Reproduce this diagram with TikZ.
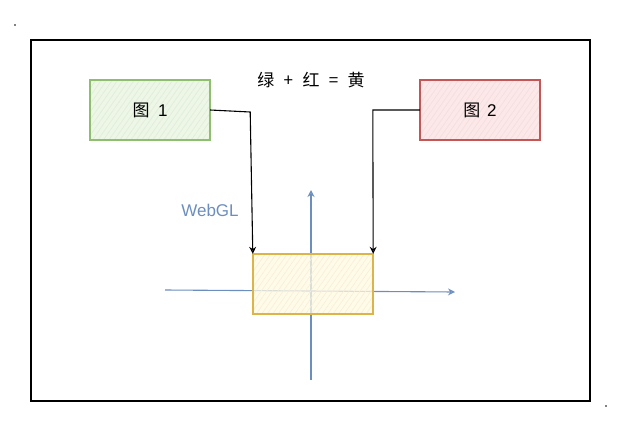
\documentclass[tikz,border=0pt]{standalone}
\usepackage{fontspec}
\setmainfont{Liberation Sans}
\newfontfamily\cjk{Noto Sans CJK SC}
\usetikzlibrary{patterns.meta,arrows.meta}
\definecolor{gline}{HTML}{8DBF6E}
\definecolor{gfill}{HTML}{EDF6E7}
\definecolor{rline}{HTML}{C65656}
\definecolor{rfill}{HTML}{FCE8E8}
\definecolor{yline}{HTML}{DDB447}
\definecolor{yfill}{HTML}{FFF9E2}
\definecolor{bline}{HTML}{6C8EBF}
\begin{document}
\begin{tikzpicture}[x=1pt,y=-1pt,
  boxstyle/.style={minimum width=120pt,minimum height=60pt,inner sep=0pt},
  conn/.style={line width=1.1pt,-{Stealth[open,length=7pt,width=7pt]}},
  axis/.style={bline,line width=1.1pt,-{Stealth[open,length=7pt,width=7pt]}},
  hatch/.style={postaction={pattern={Lines[angle=55,distance=4.5pt,line width=0.6pt]},pattern color=#1}},
  edge/.style={postaction={draw=#1,line width=1.2pt}}]
\useasboundingbox (0,0) rectangle (621,421);
\fill[black] (15,25) circle (0.9pt);
\fill[black] (606,406) circle (0.9pt);
\draw[line width=1.3pt] (31,40) rectangle (590,401);
\draw[axis] (311,380) coordinate (vb) -- (311,190) coordinate (vt);
\draw[axis] (165,290) coordinate (hl) -- (455,292) coordinate (hr);
\node[boxstyle,fill=gfill,hatch=gline!28,edge=gline] (b1) at (150,110) {\fontsize{17}{20}\selectfont\cjk 图\hspace{0.5em}\rmfamily 1};
\node[boxstyle,fill=rfill,hatch=rline!20,edge=rline] (b2) at (480,110) {\fontsize{17}{20}\selectfont\cjk 图\hspace{0.4em}\rmfamily 2};
\node[font=\fontsize{17}{20}\selectfont\cjk] (title) at (311,80) {绿\hspace{0.55em}+\hspace{0.55em}红\hspace{0.55em}=\hspace{0.55em}黄};
\node[text=bline,font=\fontsize{17}{20}\selectfont] (webgl) at (210,210) {WebGL};
\node[boxstyle,fill=yfill,fill opacity=0.75,hatch=yline!22,edge=yline] (b3) at (313,284) {};
\draw[conn] (b1.east) -- ++(40,2) -- (b3.north west);
\draw[conn] (b2.west) -- ++(-47,0) -- (b3.north east);
\end{tikzpicture}
\end{document}
